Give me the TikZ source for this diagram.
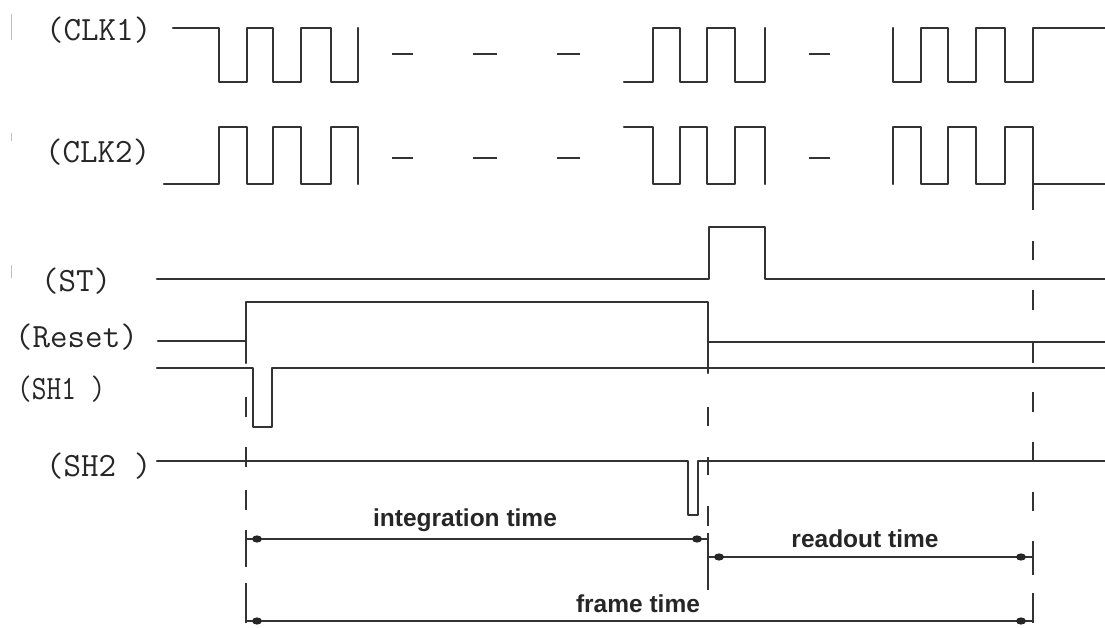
\documentclass[tikz,border=0pt]{standalone}
\usepackage{fontspec}
\setsansfont{Liberation Sans}
\begin{document}
\begin{tikzpicture}[x=1pt,y=-1pt,
  wave/.style={draw=black!80, line width=2.3pt, line join=round, line cap=round},
  guide/.style={draw=black!80, line width=2.1pt},
  span/.style={draw=black!80, line width=2.1pt},
  gap/.style={draw=black!80, line width=2.6pt},
  blob/.style={fill=black!85},
  sig/.style={font=\ttfamily\fontsize{34}{34}\selectfont, text=black!85, inner sep=0pt, anchor=west},
  lbl/.style={font=\sffamily\bfseries\fontsize{24.5}{24.5}\selectfont, text=black!85, inner sep=0pt, anchor=base},
  speck/.style={draw=black!25, line width=1pt}
]
\useasboundingbox (0,0) rectangle (1105,628);

% signal names
\node[sig] (nclk1)  at (46,30)  {(CLK1)};
\node[sig] (nclk2)  at (45,152) {(CLK2)};
\node[sig] (nst)    at (41,281) {(ST)};
\node[sig] (nreset) at (15,337) {(Reset)};
\node[sig, xscale=0.84] (nsh1) at (17,389) {(SH1 )};
\node[sig] (nsh2)   at (46,466) {(SH2 )};

% faint specks on the left edge
\draw[speck] (11,14) -- (11,40);
\draw[speck] (11,133) -- (11,141);
\draw[speck] (11,265) -- (11,278);

% CLK1
\draw[wave] (173,28) -- (219,28) |- (247,82) |- (273,28) |- (301,82) |- (331,28) |- (358,82) -- (358,28);
\draw[wave] (624,82) -- (653,82) |- (680,28) |- (707,82) |- (735,28) |- (765,82) -- (765,28);
\draw[wave] (893,28) |- (921,82) |- (948,28) |- (976,82) |- (1005,28) |- (1033,82) |- (1105,28);
\foreach \a/\b in {392/413, 473/497, 557/580, 809/830}
  \draw[gap] (\a,54) -- (\b,54);

% CLK2
\draw[wave] (164,184) -- (219,184) |- (247,127) |- (273,184) |- (301,127) |- (331,184) |- (358,127) -- (358,184);
\draw[wave] (624,127) -- (653,127) |- (680,184) |- (707,127) |- (735,184) |- (765,127) -- (765,184);
\draw[wave] (893,184) |- (921,127) |- (948,184) |- (976,127) |- (1005,184) |- (1033,127) |- (1105,184);
\foreach \a/\b in {392/413, 473/497, 557/580, 809/830}
  \draw[gap] (\a,158) -- (\b,158);

% ST
\draw[wave] (157,279) -- (709,279) |- (765,227) |- (1105,279);

% Reset
\draw[wave] (158,341) -- (246,341);
\draw[wave] (246,363) -- (246,302) -- (708,302) -- (708,373);
\draw[wave] (708,342) -- (1105,342);

% SH1
\draw[wave] (157,368) -- (253,368) |- (272,427) |- (1105,368);

% SH2
\draw[wave] (157,461) -- (688,461) |- (698,515) |- (1105,461);

% timing guides
\foreach \a/\b in {397/417, 447/467, 490/510, 530/567, 583/623}
  \draw[guide] (246,\a) -- (246,\b);
\foreach \a/\b in {407/426, 457/475, 506/526, 533/590}
  \draw[guide] (708,\a) -- (708,\b);
\foreach \a/\b in {184/210, 241/260, 290/310, 342/363, 392/412, 442/461, 492/511, 541/575, 593/623}
  \draw[guide] (1033,\a) -- (1033,\b);

% spans
\coordinate (intL) at (246,539);
\coordinate (intR) at (708,539);
\coordinate (rdL)  at (708,557);
\coordinate (rdR)  at (1033,557);
\coordinate (frL)  at (246,621);
\coordinate (frR)  at (1033,621);

\draw[span] (intL) -- (intR);
\draw[span] (rdL) -- (rdR);
\draw[span] (frL) -- (frR);
\foreach \p/\s in {intL/11, intR/-11, rdL/11, rdR/-12, frL/11, frR/-12}
  \fill[blob] ([xshift=\s pt]\p) ellipse [x radius=5pt, y radius=3.6pt];

\node[lbl] (tint) at (465,526) {integration time};
\node[lbl] (trd)  at (865,547) {readout time};
\node[lbl] (tfr)  at (638,612) {frame time};
\end{tikzpicture}
\end{document}
